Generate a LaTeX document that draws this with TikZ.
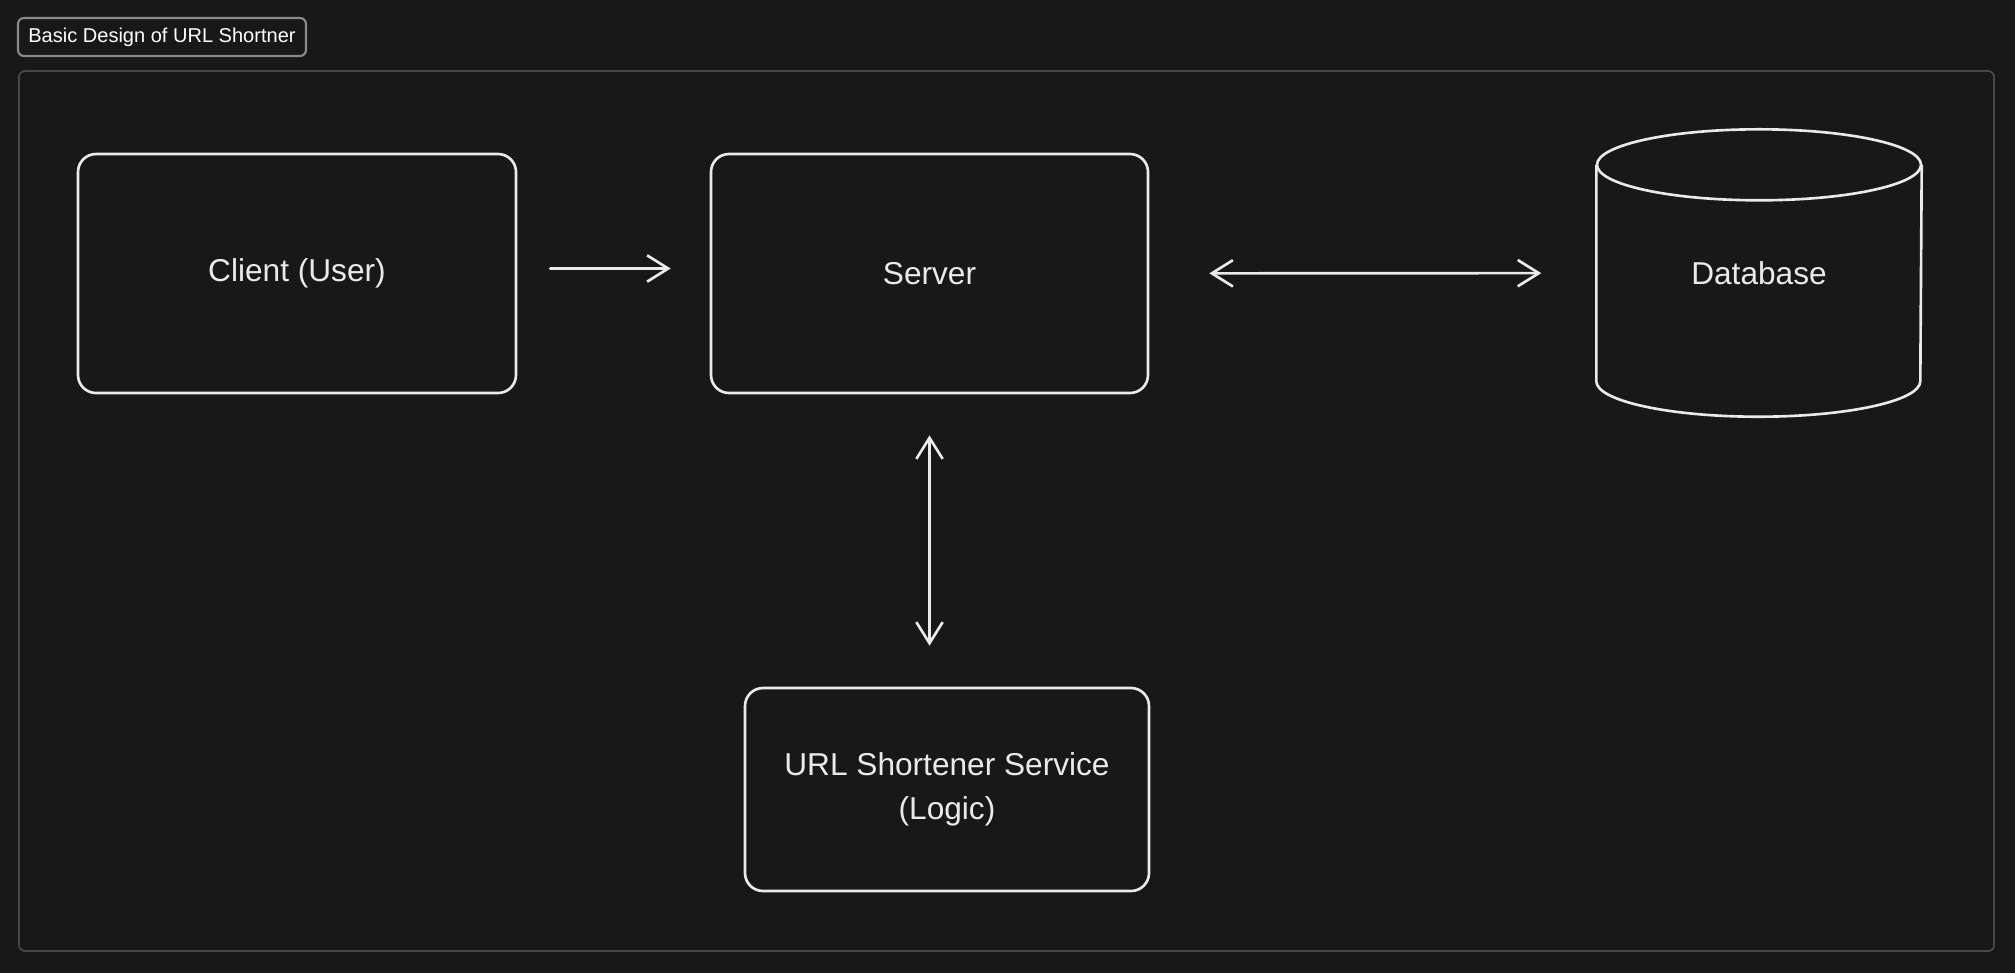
\documentclass[tikz,border=0pt]{standalone}
\usepackage{fontspec}
\setmainfont{Liberation Sans}
\usetikzlibrary{arrows.meta}
\definecolor{colBg}{RGB}{24,24,24}
\definecolor{colInk}{RGB}{234,234,234}
\definecolor{colFrame}{RGB}{72,72,72}
\definecolor{colTag}{RGB}{138,138,138}
\tikzstyle{box}=[draw=colInk, line width=0.75pt, rounded corners=0.18cm, text=colInk, font=\fontsize{9}{12.5}\selectfont, align=center, inner sep=0pt]
\tikzstyle{dbbox}=[inner sep=0pt, text=colInk, font=\fontsize{9}{12.5}\selectfont, minimum width=3.24cm, minimum height=2.86cm]
\tikzstyle{dbline}=[draw=colInk, line width=0.75pt]
\tikzstyle{tag}=[draw=colTag, line width=0.6pt, rounded corners=0.06cm, text=white, font=\fontsize{5.7}{7}\selectfont, inner sep=0pt, minimum width=2.88cm, minimum height=0.38cm]
\tikzstyle{frame}=[draw=colFrame, line width=0.5pt, rounded corners=0.06cm]
\tikzstyle{conn}=[colInk, line width=0.75pt, line cap=round]

\begin{document}
\begin{tikzpicture}[>={Straight Barb[length=6pt,width=7.5pt,line width=0.75pt]}]
	% page size, then background
	\useasboundingbox (0,0) rectangle (20.15,-9.72);
	\fill[colBg] (-0.1,0.1) rectangle (20.25,-9.82);

	%%% Frame and title
	\draw[frame] (0.19,-0.71) rectangle (19.94,-9.51);
	\node[tag]     (title) at (1.62, -0.37) {Basic Design of URL Shortner};

	%%% Boxes
	\node[box, minimum width=4.38cm, minimum height=2.39cm] (client)  at ( 2.97, -2.735) {Client (User)};
	\node[box, minimum width=4.37cm, minimum height=2.39cm] (server)  at ( 9.295, -2.735) {Server};
	\node[box, minimum width=4.04cm, minimum height=2.03cm] (service) at ( 9.47, -7.895) {URL Shortener Service\\(Logic)};
	\node[dbbox]                                            (db)      at (17.59, -2.73)  {Database};

	% Cylinder round the database
	\draw[dbline] ([yshift=-0.355cm]db.north west) -- ([yshift=0.355cm]db.south west)
		arc[start angle=180, end angle=360, x radius=1.62cm, y radius=0.355cm]
		-- ([yshift=-0.355cm]db.north east);
	\draw[dbline] ([yshift=-0.355cm]db.north) ellipse [x radius=1.62cm, y radius=0.355cm];

	%%% Connectors
	\draw[conn, ->, shorten <=0.33cm, shorten >=0.39cm] ([yshift=0.05cm]client.east) -- ([yshift=0.05cm]server.west);
	\draw[conn, <->, shorten <=0.60cm, shorten >=0.55cm] (server) -- (db);
	\draw[conn, <->, shorten <=0.41cm, shorten >=0.41cm] (server.south) -- (server.south |- service.north);
\end{tikzpicture}
\end{document}
